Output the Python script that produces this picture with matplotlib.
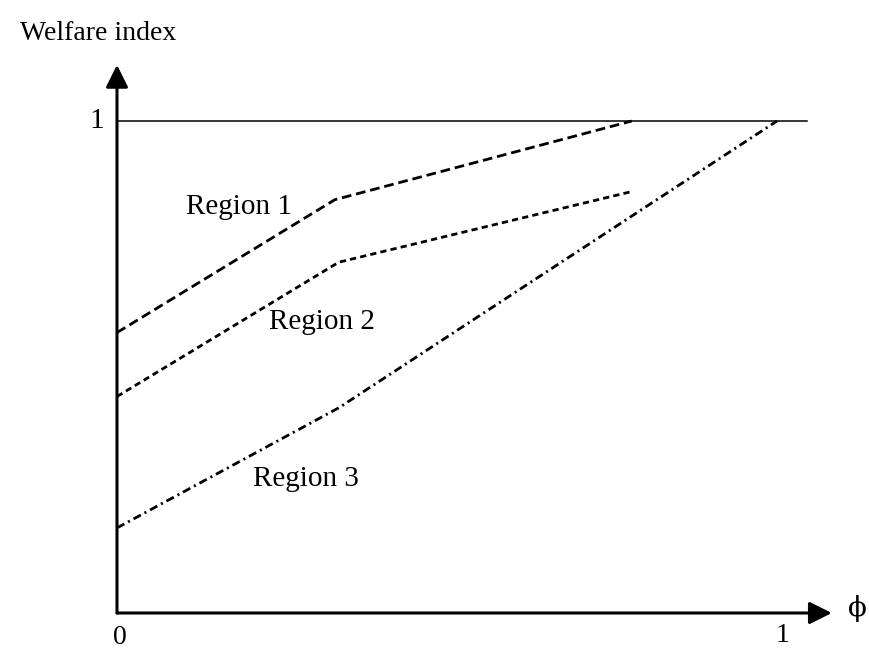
import matplotlib
matplotlib.use("Agg")
import matplotlib.pyplot as plt

plt.rcParams['font.family'] = ['Liberation Serif', 'DejaVu Serif']
plt.rcParams['lines.scale_dashes'] = False

# Data
phi_r1 = [0.0, 0.33, 0.78]
w_r1 = [0.57, 0.84, 1.0]
phi_r2 = [0.0, 0.336, 0.778]
w_r2 = [0.44, 0.713, 0.856]
phi_r3 = [0.0, 0.336, 1.0]
w_r3 = [0.173, 0.417, 1.0]
ceiling_x = [0.0, 1.045]
ceiling_y = [1.0, 1.0]
region_labels = ["Region 1", "Region 2", "Region 3"]
label_pos = [(0.185, 0.825), (0.31, 0.592), (0.287, 0.272)]

W, H = 869, 649
fig = plt.figure(figsize=(W / 100, H / 100), dpi=100)
ax = fig.add_axes([117 / W, (H - 613) / H, 660 / W, 492 / H])
ax.set_xlim(0, 1)
ax.set_ylim(0, 1)
ax.axis('off')

# axes with arrowheads
arrow = dict(arrowstyle='-|>', lw=2.2, color='black', mutation_scale=34,
             shrinkA=0, shrinkB=0)
ax.annotate('', xy=(1.083, 0), xytext=(0, 0), arrowprops=arrow,
            annotation_clip=False)
ax.annotate('', xy=(0, 1.114), xytext=(0, 0), arrowprops=arrow,
            annotation_clip=False)

# ceiling line at welfare index 1
ax.plot(ceiling_x, ceiling_y, color='black', lw=1.1, clip_on=False)

ax.plot(phi_r1, w_r1, color='black', lw=2.0, dashes=(7, 3.5), clip_on=False)
ax.plot(phi_r2, w_r2, color='black', lw=2.0, dashes=(4.5, 3), clip_on=False)
ax.plot(phi_r3, w_r3, color='black', lw=2.0, dashes=(6, 3, 1.5, 3),
        clip_on=False)

for lab, (x, y) in zip(region_labels, label_pos):
    ax.text(x, y, lab, fontsize=21, ha='center', va='center')

ax.text(-0.02, 1.0, "1", fontsize=21, ha='right', va='center')
ax.text(0.005, -0.05, "0", fontsize=20, ha='center', va='center')
ax.text(1.008, -0.045, "1", fontsize=20, ha='center', va='center')
ax.text(1.136, 0.01, "\u03d5", fontsize=20, ha='right', va='center',
        family=['DejaVu Serif'])

fig.text(20 / W, 1 - 33 / H, "Welfare index", fontsize=20, ha='left',
         va='center')

fig.savefig("out.png", dpi=100, facecolor='white')
